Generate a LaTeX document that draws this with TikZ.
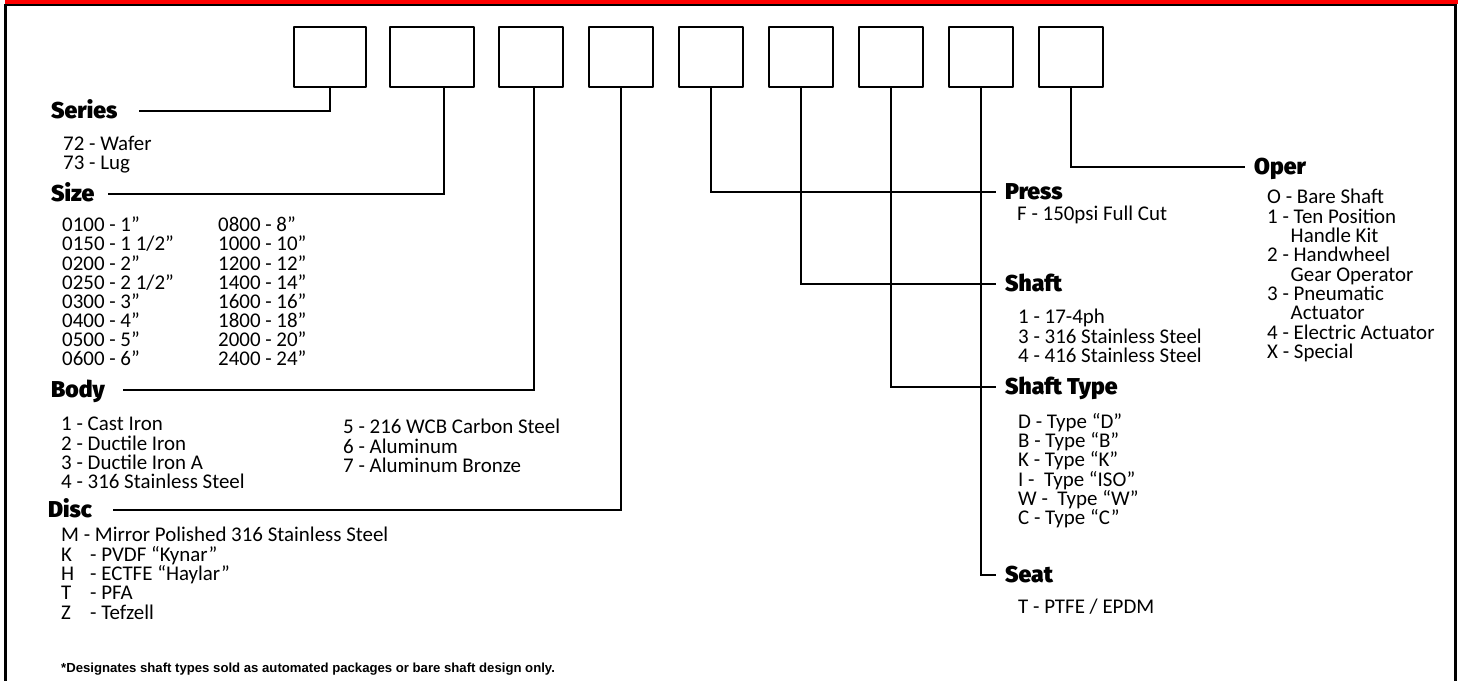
\documentclass[tikz,border=0pt]{standalone}
\usepackage{fontspec}
\setmainfont{Carlito}
\newfontfamily\headfont{Fira Sans Black}
\newfontfamily\notefont{Liberation Sans}
\definecolor{barred}{RGB}{255,0,0}
\newcommand{\tabkey}[1]{\makebox[29bp][l]{#1}}
\newcommand{\indentline}{\hspace*{23.5bp}}
\begin{document}
\begin{tikzpicture}[>=latex,line join=bevel,
  box/.style={draw,line width=2.2bp,minimum width=64bp,minimum height=60bp,inner sep=0pt},
  head/.style={anchor=west,inner sep=0pt,text height=16bp,text depth=0pt,font=\headfont\fontsize{23}{23}\selectfont},
  items/.style={anchor=north west,inner sep=0pt,align=left,font=\fontsize{21}{19.4}\selectfont,execute at begin node=\rule{0pt}{13bp}},
  link/.style={line width=1.3bp,line join=miter},
  ]
%%
\useasboundingbox (0bp,0bp) rectangle (1464bp,681bp);
\fill [barred] (5bp,677bp) rectangle (1458bp,681bp);
\draw [line width=2.6bp,line join=miter] (5.5bp,0bp) -- (5.5bp,676bp) -- (1455.5bp,676bp) -- (1455.5bp,0bp);
%
\node (box_1) at (330.0bp,624.0bp) [box,minimum width=72bp] {};
  \node (box_2) at (432.0bp,624.0bp) [box,minimum width=84bp] {};
  \node (box_3) at (531.0bp,624.0bp) [box] {};
  \node (box_4) at (621.0bp,624.0bp) [box] {};
  \node (box_5) at (711.0bp,624.0bp) [box] {};
  \node (box_6) at (801.0bp,624.0bp) [box] {};
  \node (box_7) at (891.0bp,624.0bp) [box] {};
  \node (box_8) at (981.0bp,624.0bp) [box] {};
  \node (box_9) at (1071.0bp,624.0bp) [box] {};
%
\node (head_series) at (51.0bp,570.0bp) [head] {Series};
  \node (head_size) at (51.0bp,487.0bp) [head] {Size};
  \node (head_body) at (51.0bp,291.0bp) [head] {Body};
  \node (head_disc) at (48.0bp,171.0bp) [head] {Disc};
  \node (head_press) at (1005.0bp,489.0bp) [head] {Press};
  \node (head_shaft) at (1005.0bp,397.0bp) [head] {Shaft};
  \node (head_shafttype) at (1005.0bp,294.0bp) [head] {Shaft Type};
  \node (head_seat) at (1005.0bp,106.0bp) [head] {Seat};
  \node (head_oper) at (1254.0bp,514.0bp) [head] {Oper};
%
\node (list_series) at (63.0bp,545.0bp) [items] {72 - Wafer\\73 - Lug};
  \node (list_size_a) at (62.0bp,464.0bp) [items,font=\fontsize{21}{19.1}\selectfont] {0100 - 1”\\0150 - 1 1/2”\\0200 - 2”\\0250 - 2 1/2”\\0300 - 3”\\0400 - 4”\\0500 - 5”\\0600 - 6”};
  \node (list_size_b) at (218.0bp,464.0bp) [items,font=\fontsize{21}{19.1}\selectfont] {0800 - 8”\\1000 - 10”\\1200 - 12”\\1400 - 14”\\1600 - 16”\\1800 - 18”\\2000 - 20”\\2400 - 24”};
  \node (list_body_a) at (61.0bp,264.0bp) [items] {1 - Cast Iron\\2 - Ductile Iron\\3 - Ductile Iron A\\4 - 316 Stainless Steel};
  \node (list_body_b) at (343.0bp,262.0bp) [items] {5 - 216 WCB Carbon Steel\\6 - Aluminum\\7 - Aluminum Bronze};
  \node (list_disc) at (61.0bp,154.0bp) [items] {M - Mirror Polished 316 Stainless Steel\\\tabkey{K}- PVDF “Kynar”\\\tabkey{H}- ECTFE “Haylar”\\\tabkey{T}- PFA\\\tabkey{Z}- Tefzell};
  \node (list_press) at (1017.0bp,475.0bp) [items] {F - 150psi Full Cut};
  \node (list_shaft) at (1018.0bp,372.0bp) [items] {1 - 17-4ph\\3 - 316 Stainless Steel\\4 - 416 Stainless Steel};
  \node (list_shafttype) at (1018.0bp,268.0bp) [items] {D - Type “D”\\B - Type “B”\\K - Type “K”\\I -\ \ Type “ISO”\\W -\ \ Type “W”\\C - Type “C”};
  \node (list_seat) at (1018.0bp,82.0bp) [items] {T - PTFE / EPDM};
  \node (list_oper) at (1267.0bp,492.0bp) [items] {O - Bare Shaft\\1 - Ten Position\\\indentline Handle Kit\\2 - Handwheel\\\indentline Gear Operator\\3 - Pneumatic\\\indentline Actuator\\4 - Electric Actuator\\X - Special};
  \node (note) at (61.0bp,9.0bp) [anchor=base west,inner sep=0pt,font=\notefont\bfseries\fontsize{13.2}{13.2}\selectfont] {*Designates shaft types sold as automated packages or bare shaft design only.};
%
\draw [link] (box_1.south) |- ([xshift=21bp]head_series.east);
  \draw [link] ([xshift=12bp]box_2.south) |- ([xshift=13bp]head_size.east);
  \draw [link] ([xshift=3bp]box_3.south) |- ([xshift=18bp]head_body.east);
  \draw [link] (box_4.south) |- ([xshift=21bp]head_disc.east);
  \draw [link] (box_5.south) |- ([xshift=-9bp]head_press.west);
  \draw [link] (box_6.south) |- ([xshift=-9bp]head_shaft.west);
  \draw [link] (box_7.south) |- ([xshift=-9bp]head_shafttype.west);
  \draw [link] (box_8.south) |- ([xshift=-9bp]head_seat.west);
  \draw [link] (box_9.south) |- ([xshift=-9bp]head_oper.west);
%
\end{tikzpicture}
\end{document}
